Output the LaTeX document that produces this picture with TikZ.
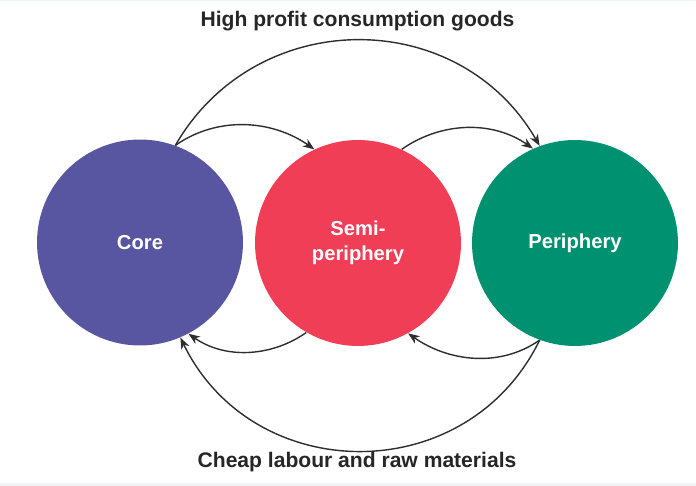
\documentclass[tikz,border=0pt]{standalone}
\usepackage{fontspec}
\setmainfont{Liberation Sans}
\usetikzlibrary{arrows.meta}
\definecolor{corecol}{HTML}{5856A0}
\definecolor{semicol}{HTML}{EF3E55}
\definecolor{pericol}{HTML}{009270}
\definecolor{edgecol}{HTML}{EEF3F8}
\begin{document}
\begin{tikzpicture}[x=0.02cm, y=0.02cm,
  zone/.style={circle, minimum size=4.12cm, inner sep=0pt, text=white, align=center, font=\bfseries\fontsize{11.5}{14.5}\selectfont},
  flow/.style={-{Stealth[length=6.5pt,width=5pt,inset=2pt]}, line width=0.8pt, draw=black!82},
  caption/.style={text=black!85, font=\bfseries\fontsize{12}{14}\selectfont}]
  \useasboundingbox (0,0) rectangle (696,486);
  \fill[edgecol] (0,0) rectangle (696,3); % faint frame
  \fill[edgecol] (0,484.5) rectangle (696,486);

  \node[zone, fill=corecol] (core) at (140,243.5) {Core};
  \node[zone, fill=semicol] (semi) at (358,243) {Semi-\\periphery};
  \node[zone, fill=pericol] (peri) at (575,243) {Periphery};

  \node[caption] (goods) at (357.5,465) {High profit consumption goods};
  \node[caption] (labour) at (357,23.5) {Cheap labour and raw materials};

  % goods flow outwards
  \draw[flow] (core.70) to[out=35,in=145,looseness=0.95] (semi.115);
  \draw[flow] (semi.65) to[out=35,in=145,looseness=0.95] (peri.114);
  \draw[flow] (core.70) to[out=60,in=120,looseness=1.14] (peri.110);

  % labour and materials flow back
  \draw[flow] (semi.240) to[out=215,in=-35,looseness=0.95] (core.-62);
  \draw[flow] (peri.250) to[out=215,in=-35,looseness=0.95] (semi.-61);
  \draw[flow] (peri.250) to[out=-116,in=-64,looseness=1.18] (core.-67);

\end{tikzpicture}
\end{document}
